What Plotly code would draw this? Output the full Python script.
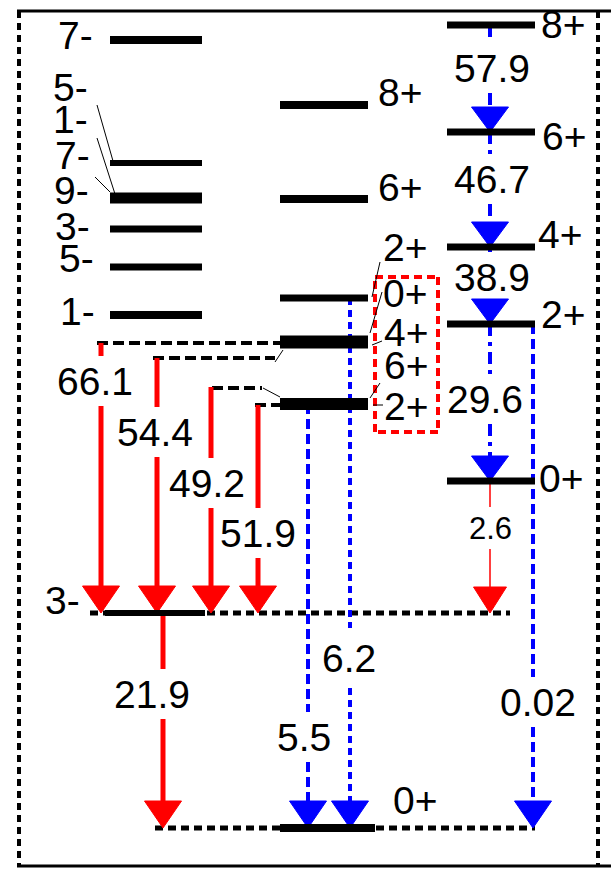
import plotly.graph_objects as go

# ---------------- DATA (energies in diagram units, ground state 0+ = 0) ----------------
# Column A : negative-parity levels
colA_E = [788, 665, 630, 599, 561, 513]
colA_lw = [8, 6, 11, 7, 7, 8]
colA_labels = ["7-", "5-", "1-", "7-", "9-", "3-", "5-", "1-"]
colA_label_E = [793, 741, 709, 673, 638, 602, 570, 517]
colA_label_x = [75, 70, 70, 72, 71, 72, 76, 77]

# Column B : positive-parity levels (two thick ones are doublets)
colB_E = [723, 629, 530, 486, 424]
colB_lw = [8, 8, 7, 13, 12]
colB_labels = ["8+", "6+", "2+", "0+", "4+", "6+", "2+"]
colB_label_E = [736, 641, 581, 535, 496, 463, 422]
colB_label_x = [400, 400, 405, 405, 406, 406, 406]

# Column C : ground-state-like band
colC_E = [803, 696, 581, 504, 347]
colC_lw = [7, 7, 7, 7, 7]
colC_labels = ["8+", "6+", "4+", "2+", "0+"]
colC_label_E = [804, 692, 594, 514, 350]
colC_label_x = [563, 564, 560, 563, 561]

# 3- octupole level and ground state
oct_E = 215
gs_E = 0

# Transitions: label, x, E_from, E_to, label x, label E, kind
tr_labels = ["66.1", "54.4", "49.2", "51.9", "21.9", "5.5", "6.2", "0.02",
             "57.9", "46.7", "38.9", "29.6", "2.6"]
tr_x = [101, 157, 211, 258, 163, 308, 350, 533, 490, 490, 490, 490, 490]
tr_from = [485, 470, 441, 423, 215, 424, 530, 504, 803, 696, 581, 504, 347]
tr_to = [215, 215, 215, 215, 0, 0, 0, 0, 696, 581, 504, 347, 215]
tr_lab_x = [95, 155, 207, 258, 152, 304, 349, 538, 492, 492, 492, 485, 490]
tr_lab_E = [447, 396, 345, 295, 134, 91, 170, 126, 760, 649, 551, 429, 300]
tr_kind = ["E1", "E1", "E1", "E1", "E1", "E0d", "E0o", "E0d",
           "E2", "E2", "E2", "E2", "E1t"]

# ---------------- FIGURE ----------------
W, H = 611, 869
ETOP = 828
fig = go.Figure()
FONT = "Liberation Sans, Arial, sans-serif"


def seg(x0, y0, x1, y1, color="black", width=4, dash="solid"):
    fig.add_trace(go.Scatter(x=[x0, x1], y=[y0, y1], mode="lines",
                             line=dict(color=color, width=width, dash=dash),
                             hoverinfo="skip", showlegend=False))


def head(x, tip, w, h, color):
    fig.add_trace(go.Scatter(x=[x - w / 2, x + w / 2, x, x - w / 2],
                             y=[tip + h, tip + h, tip, tip + h], mode="lines",
                             fill="toself", fillcolor=color,
                             line=dict(color=color, width=1),
                             hoverinfo="skip", showlegend=False))


def txt(x, y, s, size=39):
    fig.add_annotation(x=x, y=y, text=s, showarrow=False, xanchor="center",
                       yanchor="middle", borderpad=0,
                       font=dict(family=FONT, size=size, color="black"))


# frame
seg(17, ETOP - 11, 611, ETOP - 11, width=3)
seg(17, ETOP - 866, 611, ETOP - 866, width=3)
seg(19, ETOP - 11, 19, ETOP - 866, width=4, dash="7px,5px")
seg(598, ETOP - 11, 598, ETOP - 866, width=4, dash="7px,5px")

# black dashed connectors
seg(97, 485, 280, 485, width=4, dash="11px,5px")
seg(153, 470, 275, 470, width=4, dash="11px,5px")
seg(275, 466, 283, 478, width=1)
seg(212, 440, 262, 440, width=4, dash="11px,5px")
seg(263, 440, 280, 431, width=1)
seg(255, 423, 280, 423, width=4, dash="11px,5px")
seg(90, oct_E, 510, oct_E, width=5, dash="8px,5px")
seg(155, gs_E, 535, gs_E, width=5, dash="8px,5px")

# red dashed box
for (a, b, c, d) in [(375, 551, 438, 551), (438, 551, 438, 396),
                     (438, 396, 375, 396), (375, 396, 375, 551)]:
    seg(a, b, c, d, color="red", width=4, dash="8px,5px")

# transitions
GAP = 25
for lab, x, e0, e1, lx, le, kind in zip(tr_labels, tr_x, tr_from, tr_to,
                                        tr_lab_x, tr_lab_E, tr_kind):
    if kind == "E1":
        col, lw, dash, hw, hh, fs, gap = "red", 5, "solid", 37, 27, 39, GAP
    elif kind == "E1t":
        col, lw, dash, hw, hh, fs, gap = "red", 1.5, "solid", 33, 26, 31, 21
    elif kind == "E0d":
        col, lw, dash, hw, hh, fs, gap = "blue", 4, "10px,5px", 37, 27, 39, GAP
    elif kind == "E0o":
        col, lw, dash, hw, hh, fs, gap = "blue", 4, "7px,5px", 37, 27, 39, 30
    else:
        col, lw, dash, hw, hh, fs, gap = "blue", 4, "12px,6px,4px,6px", 37, 25, 39, GAP
    base = e1 + hh
    top_gap, bot_gap = le + gap, le - gap
    if e0 > top_gap:
        seg(x, e0, x, max(top_gap, base), color=col, width=lw, dash=dash)
    if bot_gap > base:
        seg(x, min(bot_gap, e0), x, base, color=col, width=lw, dash=dash)
    head(x, e1, hw, hh, col)
    txt(lx, le, lab, fs)

# levels
for e, w in zip(colA_E, colA_lw):
    seg(110, e, 202, e, width=w)
for e, w in zip(colB_E, colB_lw):
    seg(280, e, 368, e, width=w)
for e, w in zip(colC_E, colC_lw):
    seg(447, e, 535, e, width=w)
seg(105, oct_E, 205, oct_E, width=6)
seg(280, gs_E, 375, gs_E, width=8)

# leader lines
for (a, b, c, d) in [(97, 105, 113, 161), (97, 138, 115, 194), (95, 177, 110, 192)]:
    seg(a, ETOP - b, c, ETOP - d, width=1)
for (a, b, c, d) in [(380, 262, 372, 297), (382, 292, 370, 333), (382, 341, 372, 345),
                     (380, 383, 370, 398), (373, 405, 383, 405)]:
    seg(a, ETOP - b, c, ETOP - d, width=1)

# level labels
for s, e, x in zip(colA_labels, colA_label_E, colA_label_x):
    txt(x, e, s)
for s, e, x in zip(colB_labels, colB_label_E, colB_label_x):
    txt(x, e, s)
for s, e, x in zip(colC_labels, colC_label_E, colC_label_x):
    txt(x, e, s)
txt(62, ETOP - 600, "3-")
txt(415, ETOP - 800, "0+")

fig.update_layout(width=W, height=H, margin=dict(l=0, r=0, t=0, b=0),
                  paper_bgcolor="white", plot_bgcolor="white",
                  xaxis=dict(range=[0, W], visible=False, fixedrange=True),
                  yaxis=dict(range=[ETOP - H, ETOP], visible=False, fixedrange=True),
                  showlegend=False)
fig.write_html("out.html")
